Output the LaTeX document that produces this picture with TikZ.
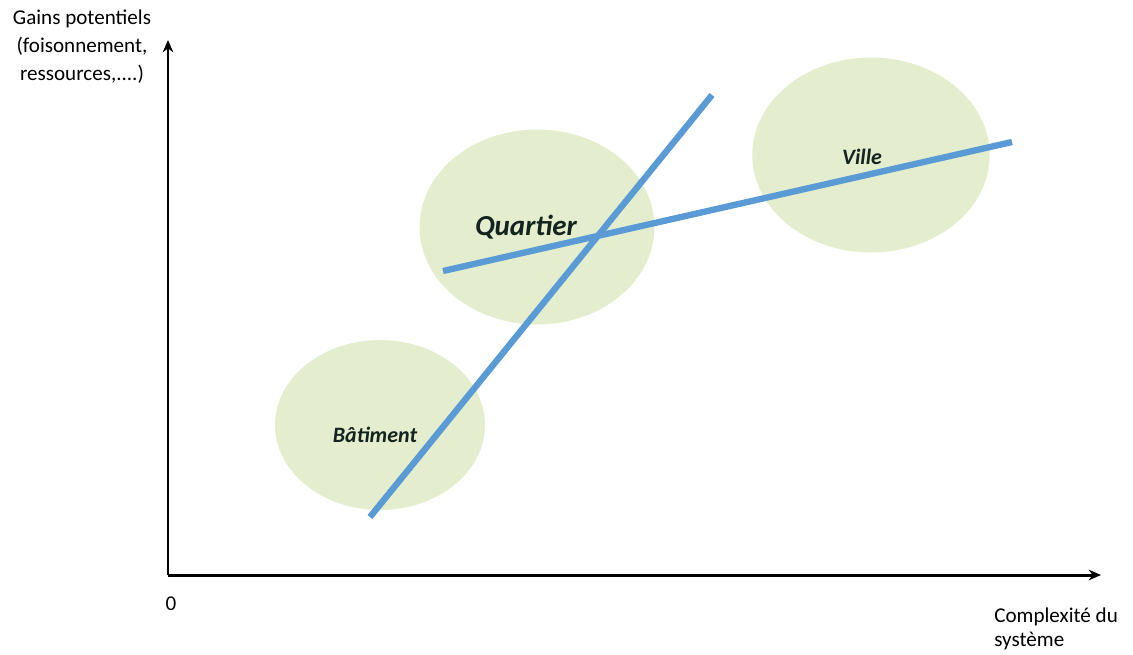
\documentclass[tikz,border=0pt]{standalone}
\usepackage{fontspec}
\setmainfont{Carlito}
\usetikzlibrary{shapes.geometric, arrows.meta, positioning}
\definecolor{ZoneGreen}{RGB}{228,238,206}
\definecolor{TrendBlue}{RGB}{91,155,213}
\definecolor{LabelInk}{RGB}{20,35,30}

\begin{document}
\begin{tikzpicture}[
    x=0.02cm, y=-0.02cm,
    >=Stealth,
    zone/.style={
        ellipse,
        fill=ZoneGreen,
        draw=none,
        inner sep=0pt
    },
    zonelabel/.style={
        text=LabelInk,
        font=\bfseries\itshape\fontsize{12.5}{15}\selectfont
    },
    axis/.style={
        draw=black,
        line width=1.7pt,
        ->,
        >={Stealth[length=7pt,width=6pt]}
    },
    trend/.style={
        draw=TrendBlue,
        line width=3.6pt
    },
    axislabel/.style={
        font=\fontsize{12}{13.6}\selectfont,
        inner sep=0pt
    }
]
\useasboundingbox (0,0) rectangle (1133,654);

% Zones
\node[zone, minimum width=4.2cm, minimum height=3.4cm] (bat) at (380,425) {};
\node[zone, minimum width=4.7cm, minimum height=3.9cm] (quar) at (537,227) {};
\node[zone, minimum width=4.75cm, minimum height=3.9cm] (vil) at (871,155) {};

\node[zonelabel] (batlabel) at (375,435) {Bâtiment};
\node[zonelabel, font=\bfseries\itshape\fontsize{16.5}{19}\selectfont] (quarlabel) at (526,227) {Quartier};
\node[zonelabel] (villabel) at (862,157) {Ville};

% Axes
\coordinate (origin) at (168,575);
\coordinate (ytop) at (168,40);
\coordinate (xend) at (1101,575);
\draw[axis] (origin) -- (ytop);
\draw[axis] (origin) -- (xend);

\node[axislabel] (zero) at (171,604) {0};
\node[axislabel, align=center, font=\fontsize{12}{16}\selectfont] (ylabel) at (82,47) {Gains potentiels\\(foisonnement,\\ressources,....)};
\node[axislabel, align=left, anchor=west] (xlabel) at (994,629) {Complexité du\\système};

% Trend lines
\coordinate (a1) at (370,517);
\coordinate (a2) at (712,95);
\coordinate (b1) at (443,271);
\coordinate (b2) at (1012,142);
\draw[trend] (a1) -- (a2);
\draw[trend] (b1) -- (b2);

\end{tikzpicture}
\end{document}
